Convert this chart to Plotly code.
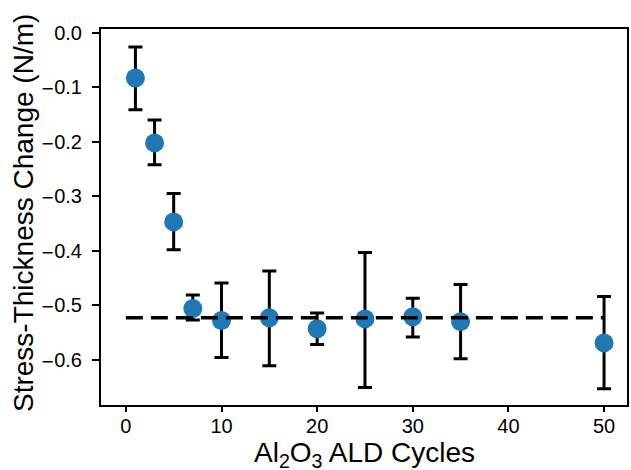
import plotly.graph_objects as go

cycles = [1, 3, 5, 7, 10, 15, 20, 25, 30, 35, 50]
stress = [-0.083, -0.202, -0.347, -0.506, -0.528, -0.523, -0.543, -0.525, -0.521, -0.530, -0.569]
err_up = [0.057, 0.042, 0.052, 0.025, 0.069, 0.086, 0.029, 0.122, 0.034, 0.068, 0.085]
err_dn = [0.058, 0.040, 0.051, 0.021, 0.068, 0.088, 0.029, 0.126, 0.037, 0.068, 0.084]
mean_x = [0, 50]
mean_y = [-0.523, -0.523]
y_ticks = [0, -0.1, -0.2, -0.3, -0.4, -0.5, -0.6]
x_ticks = [0, 10, 20, 30, 40, 50]
x_title = "Al<sub>2</sub>O<sub>3</sub> ALD Cycles"
y_title = "Stress-Thickness Change (N/m)"

minus = "<span style=\"font-family:'DejaVu Sans';font-size:16px\">\u2212</span>"
y_ticktext = [("%.1f" % v).replace("-", minus) if v < 0 else "%.1f" % v for v in y_ticks]

fig = go.Figure()
fig.add_trace(go.Scatter(
    x=cycles, y=stress, mode="markers",
    marker=dict(size=19, color="#1f77b4"),
    error_y=dict(type="data", symmetric=False, array=err_up, arrayminus=err_dn,
                 color="black", thickness=3, width=7),
    showlegend=False,
))
fig.add_trace(go.Scatter(
    x=mean_x, y=mean_y, mode="lines",
    line=dict(color="black", width=3.5, dash="17px,8px"),
    showlegend=False,
))

font = "Liberation Sans, Arial, sans-serif"
fig.update_layout(
    width=631, height=470,
    margin=dict(l=101, r=2, t=29, b=65),
    paper_bgcolor="white", plot_bgcolor="white",
    font=dict(family=font, color="black", size=20),
    xaxis=dict(
        range=[-2.6, 52.4], tickvals=x_ticks,
        showline=True, linecolor="black", linewidth=2, mirror=True,
        ticks="outside", ticklen=5, tickwidth=1.5, tickcolor="black",
        ticklabelstandoff=-3,
        showgrid=False, zeroline=False,
        tickfont=dict(size=20),
    ),
    yaxis=dict(
        range=[-0.683, 0.007], tickvals=y_ticks, ticktext=y_ticktext,
        showline=True, linecolor="black", linewidth=2, mirror=True,
        ticks="outside", ticklen=7, tickwidth=1.5, tickcolor="black",
        ticklabelstandoff=6,
        showgrid=False, zeroline=False,
        tickfont=dict(size=20),
    ),
    annotations=[
        dict(text=x_title, xref="paper", yref="paper", x=0.5, y=0,
             xanchor="center", yanchor="top", yshift=-30, showarrow=False,
             font=dict(size=28)),
        dict(text=y_title, xref="paper", yref="paper", x=0, y=0.5,
             xanchor="center", yanchor="middle", xshift=-78, yshift=4,
             textangle=-90, showarrow=False, font=dict(size=28)),
    ],
)
fig.write_html("out.html")
